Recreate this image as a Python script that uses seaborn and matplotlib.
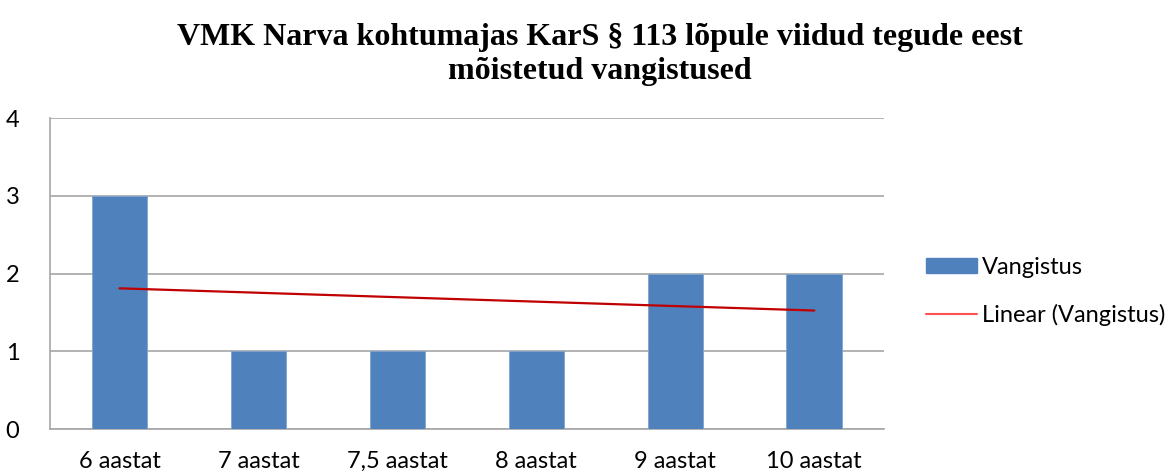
import numpy as np
import seaborn as sns
import matplotlib.pyplot as plt
from matplotlib.lines import Line2D
from matplotlib.patches import Patch

categories = ["6 aastat", "7 aastat", "7,5 aastat", "8 aastat", "9 aastat", "10 aastat"]
vangistus = [3, 1, 1, 1, 2, 2]
yticks = [0, 1, 2, 3, 4]
title = "VMK Narva kohtumajas KarS § 113 lõpule viidud tegude eest\nmõistetud vangistused"

sns.set_style("white")
plt.rcParams['font.family'] = ['Lato', 'DejaVu Sans']
plt.rcParams['text.color'] = 'black'

fig = plt.figure(figsize=(11.76, 4.73), dpi=100)
ax = fig.add_axes([0.0425, 0.093, 0.709, 0.6575])

sns.barplot(x=categories, y=vangistus, color="#4F81BD", width=0.4, saturation=1,
            edgecolor="#7FA3D0", linewidth=0.6, ax=ax, zorder=3)

# linear trend line over the categories
pos = np.arange(len(vangistus))
k, b = np.polyfit(pos, vangistus, 1)
ax.plot(pos, k * pos + b, color="#C00000", lw=1.6, zorder=4)

ax.set_ylim(0, 4)
ax.set_xlim(-0.5, len(categories) - 0.5)
ax.set_yticks(yticks)
ax.yaxis.grid(True, color="#A6A6A6", lw=1.2)
ax.set_axisbelow(True)
for s in ["top", "right"]:
    ax.spines[s].set_visible(False)
for s in ["left", "bottom"]:
    ax.spines[s].set_color("#A6A6A6")
    ax.spines[s].set_linewidth(1.2)

ax.tick_params(axis="y", length=8, color="#A6A6A6", width=1.2, labelsize=17, pad=14,
               labelcolor="black")
ax.tick_params(axis="x", which="major", length=0, labelsize=17, pad=16, labelcolor="black")
ax.set_xticks(np.arange(-0.5, len(categories)), minor=True)
ax.tick_params(axis="x", which="minor", length=8, color="#A6A6A6", width=1.2)

fig.text(0.51, 0.952, title, ha="center", va="top", fontsize=23, fontweight="bold",
         color="black", family=["Liberation Serif", "DejaVu Serif"], linespacing=1.25)

handles = [Patch(color="#4F81BD"), Line2D([], [], color="#FF5050", lw=1.5)]
fig.legend(handles, ["Vangistus", "Linear (Vangistus)"], loc="center left",
           bbox_to_anchor=(0.787, 0.383), frameon=False, fontsize=17, borderpad=0,
           borderaxespad=0, handlelength=2.2, handleheight=0.6, labelspacing=1.1,
           handletextpad=0.2)

fig.savefig("out.png", dpi=100)
